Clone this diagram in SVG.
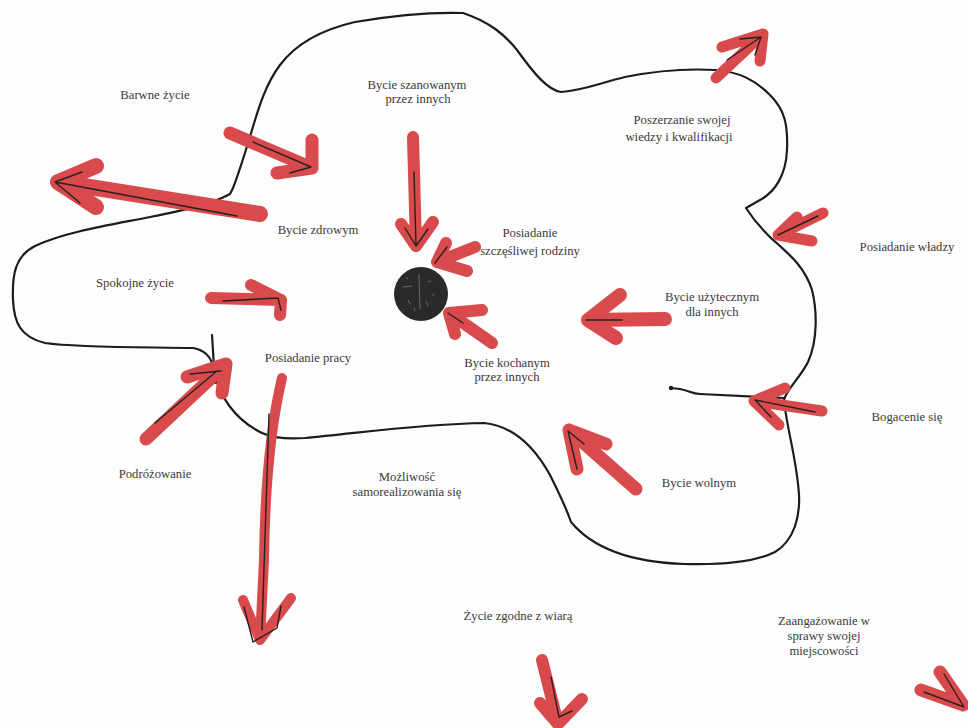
<svg xmlns="http://www.w3.org/2000/svg" width="968" height="728" viewBox="0 0 968 728">
<style>
.t{font-family:"Liberation Serif","Times New Roman",serif;font-size:12.7px;fill:#3a3a3a;text-anchor:middle}
.r{fill:none;stroke:#d84a4b;stroke-linecap:round;stroke-linejoin:round}
.k{fill:none;stroke:#2a2020;stroke-width:1.4;stroke-linecap:round;stroke-linejoin:round}
.o{fill:none;stroke:#1c1c1c;stroke-width:2.2;stroke-linecap:round;stroke-linejoin:round}
</style>
<rect width="968" height="728" fill="#fdfdfe"/>
<g id="outline">
<path class="o" d="M463,13 C430,12 390,16 355,22 C320,30 295,45 280,65 C265,85 258,110 252,130 C246,150 240,170 233,188 L230,194 C210,205 180,211 150,217 C110,225 65,232 35,246 C15,256 12,275 13,300 C14,322 20,337 45,343 C80,348 150,347 193,348 C205,350 212,358 214,370 C218,395 235,420 262,433 C275,439 290,439 305,438 C360,433 420,424 484,423 C515,426 535,448 550,475 C560,495 567,510 571,522 C590,545 625,562 684,564 C720,565 755,562 775,552 C795,540 800,515 799,495 C797,460 786,425 784,400 C786,390 800,378 808,362 C818,340 817,310 812,290 C805,268 790,255 780,246 C768,236 755,222 746,208 L760,200 C775,192 786,175 787,150 C788,125 785,110 770,95 C755,80 740,72 715,70 C680,68 650,72 625,77 C600,83 585,90 561,92 C548,90 535,75 517,50 C505,35 490,22 463,13"/>
<path class="o" d="M671,388 L680,389 C690,391 692,394 700,394 L784,398"/>
<circle cx="671" cy="388" r="2.2" fill="#1c1c1c"/>
<path class="o" d="M212,335 L215,383" stroke-width="1.6"/>
</g>
<g id="center">
<circle cx="421" cy="294" r="27" fill="#2a2a2a"/>
<path d="M403,287 L412,286 M419,274 L420,310 M408,300 L410,304 M428,282 L431,281 M426,301 L428,306 M406,277 L408,279 M432,294 L434,296 M414,308 L415,311" stroke="#6e6e6e" stroke-width="0.9" fill="none"/>
</g>
<g id="arrows">
<g id="a-barwne"><path class="r" stroke-width="13" d="M230,133 L312,168 M312,168 L312,140 M312,168 L277,173"/><path class="k" d="M253,142 L311,167 L290,173"/></g>
<g id="a-zdrowym"><path class="r" stroke-width="16" d="M260,214 L58,182 M58,182 L96,166 M58,182 L96,207"/><path class="k" d="M237,216 L55,182 L82,172 M55,182 L80,203"/></g>
<g id="a-spokojne"><path class="r" stroke-width="12" d="M211,298 L281,300 M281,300 L251,285 M281,300 L280,315"/><path class="k" d="M223,301 L278,298 L281,310"/></g>
<g id="a-szanowanym"><path class="r" stroke-width="12" d="M413,137 L416,246 M416,246 L401,224 M416,246 L433,222"/><path class="k" d="M414,172 L416,246 L405,228 M416,246 L428,229"/></g>
<g id="a-rodziny"><path class="r" stroke-width="12" d="M475,247 L437,262 M437,262 L446,243 M437,262 L467,271"/><path class="k" d="M447,247 L435,263"/></g>
<g id="a-kochanym"><path class="r" stroke-width="12" d="M492,343 L449,313 M449,313 L482,310 M449,313 L455,334"/><path class="k" d="M463,323 L448,313"/></g>
<g id="a-uzytecznym"><path class="r" stroke-width="14" d="M665,319 L588,320 M588,320 L620,295 M588,320 L616,338"/><path class="k" d="M622,320 L586,320"/></g>
<g id="a-poszerzanie"><path class="r" stroke-width="11" d="M716,78 L763,34 M763,34 L722,47 M763,34 L760,61"/><path class="k" d="M727,60 L761,37 L740,39 M761,37 L755,55"/></g>
<g id="a-wladzy"><path class="r" stroke-width="11" d="M823,213 L778,235 M778,235 L797,217 M778,235 L812,241"/><path class="k" d="M818,216 L778,235"/></g>
<g id="a-bogacenie"><path class="r" stroke-width="11" d="M822,411 L754,401 M754,401 L785,388 M754,401 L779,425"/><path class="k" d="M815,412 L755,400 L771,417"/></g>
<g id="a-wolnym"><path class="r" stroke-width="13" d="M636,489 L569,430 M569,430 L606,444 M569,430 L577,469"/><path class="k" d="M584,444 L568,431 L577,469"/></g>
<g id="a-podrozowanie"><path class="r" stroke-width="13" d="M146,439 L226,364 M226,364 L187,377 M226,364 L222,393"/><path class="k" d="M155,423 L217,371 M190,374 L221,371"/></g>
<g id="a-pracy"><path class="r" stroke-width="10" d="M282,378 C272,420 265,480 264,560 L260,640 M260,640 L243,600 M260,640 L291,598"/><path class="k" d="M269,414 L268,445 L262,630 M244,607 L253,642 L277,628 L281,606"/></g>
<g id="a-wiara"><path class="r" stroke-width="12" d="M542,660 L558,724 M558,724 L540,703 M558,724 L582,699"/><path class="k" d="M551,677 L559,717 L572,711"/></g>
<g id="a-zaangazowanie"><path class="r" stroke-width="13" d="M940,672 L963,705 M921,690 L963,705"/><path class="k" d="M924,692 L964,707 L944,674"/></g>
</g>
<g id="labels">
<text class="t" x="155" y="99">Barwne życie</text>
<text class="t" x="417" y="89">Bycie szanowanym</text>
<text class="t" x="418" y="103">przez innych</text>
<text class="t" x="318" y="234">Bycie zdrowym</text>
<text class="t" x="135" y="287">Spokojne życie</text>
<text class="t" x="308" y="362">Posiadanie pracy</text>
<text class="t" x="530" y="237">Posiadanie</text>
<text class="t" x="530" y="255">szczęśliwej rodziny</text>
<text class="t" x="507" y="367">Bycie kochanym</text>
<text class="t" x="507" y="381">przez innych</text>
<text class="t" x="682" y="124">Poszerzanie swojej</text>
<text class="t" x="679" y="141">wiedzy i kwalifikacji</text>
<text class="t" x="907" y="251">Posiadanie władzy</text>
<text class="t" x="712" y="301">Bycie użytecznym</text>
<text class="t" x="712" y="316">dla innych</text>
<text class="t" x="907" y="421">Bogacenie się</text>
<text class="t" x="699" y="487">Bycie wolnym</text>
<text class="t" x="155" y="478">Podróżowanie</text>
<text class="t" x="407" y="481">Możliwość</text>
<text class="t" x="407" y="496">samorealizowania się</text>
<text class="t" x="518" y="620">Życie zgodne z wiarą</text>
<text class="t" x="824" y="625">Zaangażowanie w</text>
<text class="t" x="824" y="640">sprawy swojej</text>
<text class="t" x="824" y="655">miejscowości</text>
</g>
</svg>
